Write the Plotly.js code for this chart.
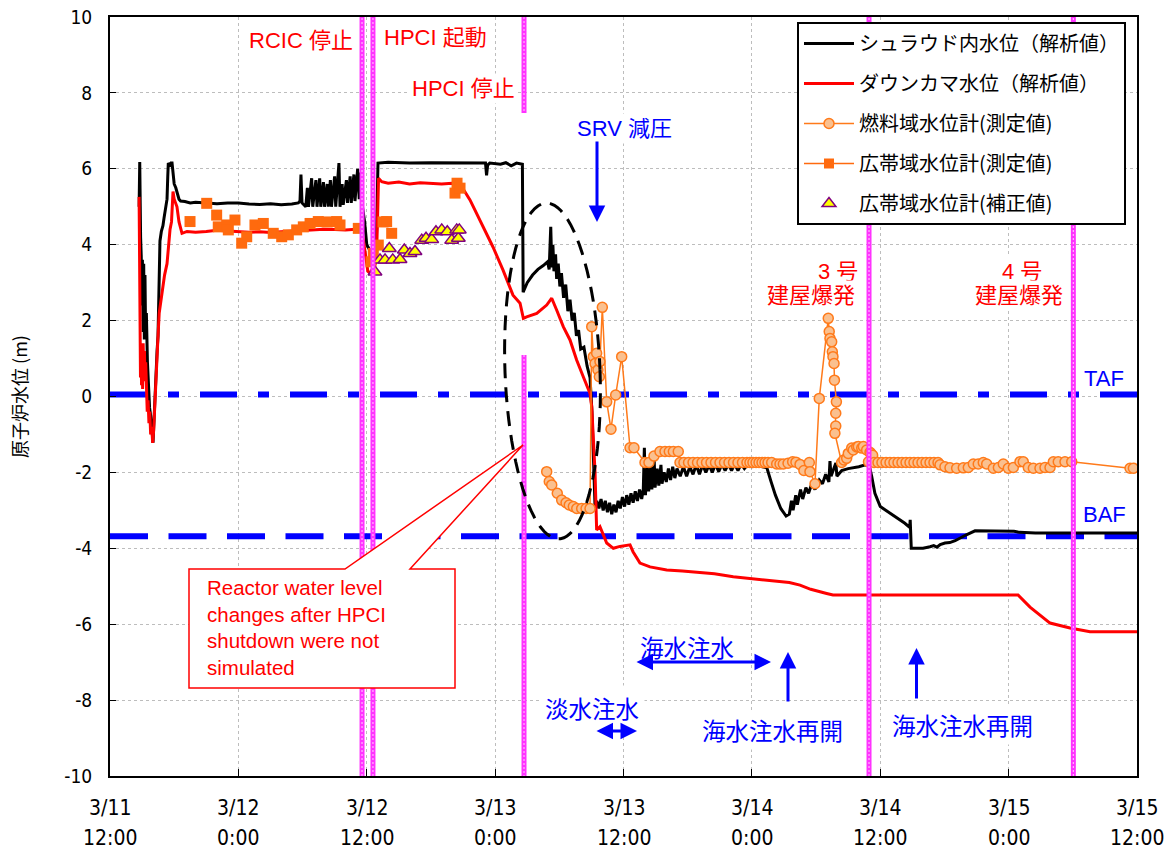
<!DOCTYPE html>
<html><head><meta charset="utf-8">
<script src="https://cdn.plot.ly/plotly-3.0.1.min.js"></script>
<style>html,body{margin:0;padding:0;background:#fff;}#chart{width:1171px;height:853px;}</style>
</head><body><div id="chart"></div>
<script>
// ---------- DATA (hours since 3/11 12:00, water level in m) ----------
const tickHours = [0, 12, 24, 36, 48, 60, 72, 84, 96];
const tickDates = ['3/11', '3/12', '3/12', '3/13', '3/13', '3/14', '3/14', '3/15', '3/15'];
const tickTimes = ['12:00', '0:00', '12:00', '0:00', '12:00', '0:00', '12:00', '0:00', '12:00'];
const yTicks = [-10, -8, -6, -4, -2, 0, 2, 4, 6, 8, 10];
const yTickLabels = ['-10', '-8', '-6', '-4', '-2', '0', '2', '4', '6', '8', '10'];

const seriesNames = ['シュラウド内水位（解析値）', 'ダウンカマ水位（解析値）', '燃料域水位計(測定値)', '広帯域水位計(測定値)', '広帯域水位計(補正値)'];

const shroudSeries = [[2.72,5.0],[2.78,6.18],[2.86,4.2],[2.92,3.7],[2.98,2.4],[3.03,3.6],[3.09,1.7],[3.15,3.5],[3.21,1.5],[3.27,3.2],[3.33,1.6],[3.40,2.2],[3.50,0.9],[3.60,0.2],[3.70,-0.3],[3.80,-0.5],[3.88,-0.9],[3.96,-1.0],[4.02,-1.22],[4.10,-0.7],[4.20,0.2],[4.30,0.8],[4.40,1.2],[4.49,1.6],[4.58,3.0],[4.67,4.1],[4.80,4.35],[4.95,4.5],[5.05,4.7],[5.14,4.85],[5.25,5.1],[5.33,5.2],[5.40,5.8],[5.45,6.15],[5.60,6.1],[5.70,6.15],[5.80,6.15],[5.90,5.85],[6.00,5.6],[6.15,5.5],[6.30,5.35],[6.45,5.2],[6.60,5.15],[7.0,5.14],[7.5,5.1],[8.0,5.12],[9.0,5.1],[10.0,5.08],[11.0,5.1],[12.0,5.1],[13.0,5.07],[14.0,5.06],[15.0,5.08],[16.0,5.05],[17.0,5.07],[17.6,5.1],[17.76,5.15],[17.85,5.85],[17.95,5.1],[18.3,5.0],[18.45,5.5],[18.55,5.0],[18.85,5.75],[18.95,5.0],[19.25,5.7],[19.35,5.0],[19.6,5.75],[19.7,5.0],[19.95,5.65],[20.05,5.0],[20.3,5.6],[20.4,5.0],[20.6,5.7],[20.7,5.0],[21.0,5.8],[21.1,5.0],[21.4,6.15],[21.5,5.0],[21.7,5.6],[21.8,5.05],[22.1,5.7],[22.2,5.1],[22.45,5.8],[22.55,5.1],[22.8,5.85],[22.9,5.15],[23.15,6.0],[23.3,5.2],[23.45,5.9],[23.6,5.0],[23.8,4.6],[24.0,4.0],[24.3,3.85],[24.6,3.9],[24.9,4.1],[25.0,5.5],[25.05,6.15],[26.0,6.17],[28.0,6.15],[30.0,6.16],[32.0,6.15],[35.1,6.15],[35.2,5.83],[35.3,6.1],[35.5,6.15],[36.5,6.12],[37.0,6.16],[37.5,6.08],[38.0,6.15],[38.55,6.12],[38.62,2.75],[39.0,3.0],[39.5,3.2],[40.0,3.35],[40.5,3.45],[40.9,3.55],[41.05,3.35],[41.2,4.47],[41.3,3.4],[41.4,4.0],[41.5,3.3],[41.65,3.75],[41.75,3.1],[41.9,3.5],[42.05,2.9],[42.2,3.25],[42.4,2.6],[42.6,2.95],[42.8,2.25],[43.0,2.55],[43.2,2.0],[43.4,2.2],[43.6,1.6],[43.8,1.75],[44.0,1.25],[44.3,1.3],[44.6,0.8],[44.87,0.5],[45.05,-0.4],[45.2,-1.5],[45.34,-2.9],[45.5,-2.75],[45.7,-2.95],[45.9,-2.7],[46.1,-3.0],[46.3,-2.75],[46.5,-3.05],[46.7,-2.8],[46.9,-3.1],[47.1,-2.85],[47.3,-3.05],[47.5,-2.75],[47.7,-2.95],[47.9,-2.65],[48.1,-2.9],[48.3,-2.6],[48.5,-2.85],[48.7,-2.55],[48.9,-2.8],[49.1,-2.5],[49.3,-2.75],[49.5,-2.45],[49.7,-2.7],[49.85,-2.45],[49.95,-1.35],[50.05,-2.6],[50.25,-1.65],[50.35,-2.5],[50.55,-1.85],[50.65,-2.45],[50.85,-1.5],[50.95,-2.4],[51.15,-1.9],[51.3,-2.35],[51.5,-1.8],[51.6,-2.3],[51.8,-2.0],[52.0,-2.25],[52.2,-1.9],[52.4,-2.2],[52.6,-1.85],[52.8,-2.15],[53.0,-1.9],[53.3,-2.1],[53.6,-1.85],[53.9,-2.1],[54.2,-1.85],[54.5,-2.05],[54.8,-1.8],[55.1,-2.05],[55.4,-1.8],[55.7,-2.0],[56.0,-1.8],[56.3,-2.0],[56.6,-1.78],[56.9,-1.98],[57.2,-1.78],[57.5,-1.95],[57.8,-1.78],[58.1,-1.95],[58.4,-1.78],[58.7,-1.95],[59.0,-1.78],[59.3,-1.9],[59.6,-1.8],[60.0,-1.85],[60.5,-1.82],[61.0,-1.85],[61.4,-1.88],[61.8,-2.25],[62.2,-2.6],[62.7,-2.95],[63.2,-3.15],[63.5,-3.1],[63.7,-2.75],[63.85,-3.0],[64.1,-2.6],[64.25,-2.85],[64.55,-2.45],[64.75,-2.7],[65.05,-2.4],[65.3,-2.55],[65.6,-2.3],[65.9,-2.45],[66.3,-2.2],[66.6,-2.3],[66.9,-2.05],[67.2,-2.25],[67.3,-1.7],[67.4,-2.1],[67.85,-1.75],[67.95,-2.1],[68.4,-1.95],[69.0,-1.9],[69.5,-1.88],[70.0,-1.85],[70.6,-1.8],[71.0,-1.85],[71.2,-2.1],[71.5,-2.55],[72.0,-2.9],[72.9,-3.07],[73.85,-3.25],[74.3,-3.34],[74.75,-3.45],[74.8,-3.25],[74.9,-4.0],[75.5,-4.0],[76.0,-4.0],[76.65,-3.96],[77.0,-3.93],[77.3,-3.97],[77.6,-3.9],[78.05,-3.86],[78.5,-3.85],[79.0,-3.8],[79.45,-3.73],[80.0,-3.65],[80.86,-3.54],[82.0,-3.54],[83.2,-3.55],[84.5,-3.55],[85.0,-3.58],[86.5,-3.6],[88.0,-3.6],[96.0,-3.6]];

const downcomerSeries = [[2.72,5.26],[2.76,3.0],[2.80,1.6],[2.85,0.5],[2.90,1.3],[2.95,0.3],[3.00,1.0],[3.05,0.2],[3.10,1.4],[3.16,0.6],[3.22,1.2],[3.28,0.4],[3.34,0.9],[3.40,0.0],[3.48,-0.4],[3.56,-0.1],[3.64,-0.7],[3.72,-0.4],[3.80,-1.0],[3.90,-0.8],[3.99,-1.22],[4.08,-0.9],[4.18,-0.2],[4.30,0.6],[4.40,1.2],[4.49,1.6],[4.60,2.2],[4.75,2.5],[4.95,2.8],[5.10,3.2],[5.33,3.5],[5.45,3.9],[5.61,4.4],[5.75,4.6],[5.89,5.4],[6.00,5.2],[6.26,5.0],[6.45,4.6],[6.73,4.3],[7.2,4.35],[8.0,4.33],[9.0,4.35],[10.0,4.38],[11.0,4.36],[12.0,4.35],[13.0,4.33],[14.0,4.34],[15.0,4.32],[16.0,4.34],[17.0,4.36],[18.0,4.38],[19.0,4.4],[20.0,4.41],[21.0,4.4],[22.0,4.39],[23.0,4.41],[23.5,4.38],[23.7,4.1],[23.9,3.7],[24.1,3.3],[24.3,3.25],[24.6,3.4],[24.9,3.55],[25.0,4.6],[25.1,5.75],[25.4,5.66],[26.0,5.62],[27.0,5.65],[28.0,5.6],[29.0,5.63],[30.0,5.62],[31.0,5.6],[32.0,5.62],[32.72,5.6],[33.65,5.18],[34.87,4.47],[35.8,3.94],[36.74,3.33],[37.67,2.67],[38.33,2.46],[38.64,2.06],[38.95,2.1],[39.89,2.19],[40.82,2.41],[41.29,2.59],[41.75,2.28],[42.37,1.84],[43.0,1.49],[43.62,0.96],[44.24,0.52],[44.87,0.08],[45.03,-0.27],[45.34,-2.0],[45.49,-3.52],[45.8,-3.43],[46.43,-3.86],[47.05,-4.0],[47.67,-3.95],[48.61,-3.91],[48.89,-4.09],[49.54,-4.39],[50.48,-4.49],[52.04,-4.57],[53.5,-4.6],[55.15,-4.64],[56.5,-4.67],[58.26,-4.75],[60.0,-4.8],[61.38,-4.84],[62.5,-4.86],[63.5,-4.9],[64.5,-4.97],[65.5,-5.08],[66.99,-5.19],[67.58,-5.23],[75.0,-5.23],[80.0,-5.23],[84.88,-5.23],[86.0,-5.55],[87.87,-5.97],[89.74,-6.1],[91.61,-6.2],[96.0,-6.2]];

const fuelRangeSeries = [[40.82,-1.98],[41.06,-2.24],[41.29,-2.33],[41.81,-2.55],[42.22,-2.73],[42.63,-2.8],[42.93,-2.86],[43.31,-2.9],[43.63,-2.95],[44.09,-2.95],[44.5,-2.95],[44.87,-2.95],[45.03,1.84],[45.18,1.05],[45.34,0.87],[45.49,1.14],[45.61,0.7],[45.74,0.52],[45.8,0.92],[46.02,2.35],[46.43,-0.14],[46.83,-0.86],[47.27,0.04],[47.83,1.05],[48.61,-1.35],[48.98,-1.35],[50.01,-1.74],[50.38,-1.74],[50.85,-1.57],[51.41,-1.45],[51.88,-1.45],[52.28,-1.45],[52.66,-1.45],[53.12,-1.45],[53.28,-1.74],[53.65,-1.74],[54.08,-1.74],[54.5,-1.74],[54.92,-1.74],[55.34,-1.74],[55.76,-1.74],[56.18,-1.74],[56.6,-1.74],[57.02,-1.74],[57.44,-1.74],[57.86,-1.74],[58.28,-1.74],[58.7,-1.74],[59.12,-1.74],[59.54,-1.74],[59.82,-1.74],[60.1,-1.74],[60.39,-1.74],[60.67,-1.74],[60.95,-1.74],[61.23,-1.74],[61.51,-1.74],[61.85,-1.74],[62.32,-1.78],[62.63,-1.78],[62.94,-1.78],[63.38,-1.76],[63.81,-1.72],[64.12,-1.73],[64.5,-1.79],[64.86,-1.95],[65.37,-1.74],[65.43,-1.98],[65.9,-2.3],[66.3,-0.05],[67.14,2.06],[67.23,1.71],[67.3,1.53],[67.46,1.44],[67.52,1.18],[67.58,1.05],[67.68,0.87],[67.72,0.43],[67.9,-0.14],[67.84,-0.44],[67.84,-0.78],[67.76,-0.97],[68.39,-1.74],[68.6,-1.67],[68.86,-1.63],[69.01,-1.5],[69.33,-1.36],[69.48,-1.41],[69.8,-1.33],[69.95,-1.32],[70.27,-1.36],[70.42,-1.32],[70.73,-1.41],[70.9,-1.72],[71.04,-1.47],[71.11,-1.5],[71.29,-1.55],[71.42,-1.74],[71.79,-1.74],[72.16,-1.74],[72.54,-1.74],[72.91,-1.74],[73.28,-1.74],[73.66,-1.74],[74.03,-1.74],[74.41,-1.74],[74.78,-1.74],[75.15,-1.74],[75.53,-1.74],[75.9,-1.74],[76.28,-1.74],[76.65,-1.74],[77.02,-1.74],[77.4,-1.74],[77.59,-1.8],[78.05,-1.85],[78.52,-1.88],[79.14,-1.89],[79.76,-1.88],[80.23,-1.87],[80.7,-1.78],[81.16,-1.78],[81.63,-1.74],[81.95,-1.78],[82.57,-1.89],[83.04,-1.87],[83.5,-1.78],[83.97,-1.89],[84.44,-1.87],[85.06,-1.72],[85.37,-1.72],[85.84,-1.87],[86.31,-1.89],[86.93,-1.89],[87.4,-1.87],[87.87,-1.87],[88.18,-1.72],[88.64,-1.72],[89.27,-1.72],[89.9,-1.72],[95.35,-1.89],[95.66,-1.89]];

const wideRangeSeries = [[7.48,4.61],[9.04,5.09],[9.97,4.78],[10.12,4.47],[10.91,4.52],[11.06,4.39],[11.68,4.65],[12.31,4.04],[12.78,4.21],[13.55,4.52],[14.33,4.56],[15.26,4.3],[16.05,4.21],[16.67,4.26],[17.45,4.39],[18.07,4.47],[18.7,4.56],[19.47,4.61],[20.3,4.6],[21.19,4.61],[21.5,4.52],[23.21,4.43],[24.4,3.55],[24.61,3.77],[25.08,3.99],[25.52,4.6],[25.86,4.61],[26.33,4.3],[32.25,5.36],[32.44,5.62],[32.72,5.49]];

const wideCorrectedSeries = [[24.77,3.28],[25.24,3.6],[25.71,3.6],[26.11,3.9],[26.43,3.6],[27.11,3.61],[27.51,3.86],[28.04,3.77],[28.51,3.82],[29.14,4.12],[29.54,4.17],[30.07,4.14],[30.47,4.34],[31.01,4.39],[31.53,4.34],[31.94,4.12],[32.41,4.39],[32.56,4.17],[32.65,4.39]];

const eventHours = [23.56, 24.58, 38.7, 70.95, 90.05];
const TAF_LEVEL = 0.05;
const BAF_LEVEL = -3.68;

// ---------- LAYOUT HELPERS (pixel -> axis units, for decorations only) ----------
const PL = 110, PR = 1137, PT = 17, PB = 776;
const X_RANGE = [0, 96], Y_RANGE = [-10, 10];
function hx(px) { return X_RANGE[0] + (px - PL) / (PR - PL) * (X_RANGE[1] - X_RANGE[0]); }
function vy(py) { return Y_RANGE[1] - (py - PT) / (PB - PT) * (Y_RANGE[1] - Y_RANGE[0]); }
const col = (arr, i) => arr.map(p => p[i]);

const JP = '"Noto Sans CJK JP", sans-serif';
const MIX = '"Liberation Sans", "Noto Sans CJK JP", sans-serif';
const NARROW = '"Liberation Sans Narrow", "DejaVu Sans Condensed", "Liberation Sans", sans-serif';

const traces = [
  { x: col(shroudSeries, 0), y: col(shroudSeries, 1), mode: 'lines', name: seriesNames[0], legendgroup: 'g1',
    line: { color: '#000000', width: 3 } },
  { x: col(downcomerSeries, 0), y: col(downcomerSeries, 1), mode: 'lines', name: seriesNames[1], legendgroup: 'g2',
    line: { color: '#FF0000', width: 3 } },
  { x: col(fuelRangeSeries, 0), y: col(fuelRangeSeries, 1), mode: 'lines+markers', name: seriesNames[2], legendgroup: 'g3',
    line: { color: '#FF7A1A', width: 1.5 },
    marker: { symbol: 'circle', size: 10, color: '#FAC08F', line: { color: '#FF7A1A', width: 1.5 } } },
  { x: col(wideRangeSeries, 0), y: col(wideRangeSeries, 1), mode: 'markers', name: seriesNames[3], legendgroup: 'g4', showlegend: false,
    marker: { symbol: 'square', size: 11, color: '#FF6A0E' } },
  { x: [null], y: [null], mode: 'lines+markers', name: seriesNames[3], legendgroup: 'g4',
    line: { color: '#FF6A0E', width: 1.5 }, marker: { symbol: 'square', size: 10, color: '#FF6A0E' } },
  { x: col(wideCorrectedSeries, 0), y: col(wideCorrectedSeries, 1), mode: 'markers', name: seriesNames[4], legendgroup: 'g5',
    marker: { symbol: 'triangle-up', size: 12, color: '#FFFF00', line: { color: '#800080', width: 1.5 } } }
];

// ---------- SHAPES ----------
const shapes = [];
shapes.push({ type: 'line', xref: 'x', yref: 'y', x0: 0, x1: 96, y0: TAF_LEVEL, y1: TAF_LEVEL, layer: 'between',
  line: { color: '#0000FF', width: 6, dash: '37px,21px,11px,21px' } });
shapes.push({ type: 'line', xref: 'x', yref: 'y', x0: 0, x1: 96, y0: BAF_LEVEL, y1: BAF_LEVEL, layer: 'between',
  line: { color: '#0000FF', width: 6, dash: '38px,20.5px' } });

function eventLine(h, ya, yb) {
  shapes.push({ type: 'line', xref: 'x', yref: 'y', x0: h, x1: h, y0: ya, y1: yb, layer: 'above',
    line: { color: '#FF33FF', width: 5 } });
  shapes.push({ type: 'line', xref: 'x', yref: 'y', x0: h, x1: h, y0: ya, y1: yb, layer: 'above',
    line: { color: '#FFB8FF', width: 1.2, dash: '2px,2px' } });
}
eventHours.forEach((h, i) => {
  if (i === 2) { eventLine(h, 10, vy(113)); eventLine(h, vy(355), -10); }
  else eventLine(h, -10, 10);
});

// dashed ellipse
(function () {
  const cx = 552.5, cy = 371, rx = 47.5, ry = 168, a = -2.2 * Math.PI / 180;
  const pts = [];
  for (let i = 0; i <= 90; i++) {
    const t = i / 90 * 2 * Math.PI;
    const X = cx + rx * Math.cos(t) * Math.cos(a) - ry * Math.sin(t) * Math.sin(a);
    const Y = cy + rx * Math.cos(t) * Math.sin(a) + ry * Math.sin(t) * Math.cos(a);
    pts.push((i ? 'L' : 'M') + hx(X).toFixed(4) + ',' + vy(Y).toFixed(4));
  }
  shapes.push({ type: 'path', xref: 'x', yref: 'y', path: pts.join(' '), layer: 'above',
    line: { color: '#000000', width: 3, dash: '15px,9px' } });
})();

// callout box
(function () {
  const P = [[189, 569], [345, 569], [523, 445], [410, 569], [455, 569], [455, 688], [189, 688]];
  const path = P.map((p, i) => (i ? 'L' : 'M') + hx(p[0]).toFixed(4) + ',' + vy(p[1]).toFixed(4)).join(' ') + ' Z';
  shapes.push({ type: 'path', xref: 'x', yref: 'y', path: path, layer: 'above', fillcolor: '#FFFFFF',
    line: { color: '#FF0000', width: 1.5 } });
})();

// ---------- ANNOTATIONS ----------
const ann = [];
function txt(text, px, py, color, size, extra) {
  ann.push(Object.assign({ xref: 'x', yref: 'y', x: hx(px), y: vy(py), text: text, showarrow: false,
    font: { family: MIX, size: size, color: color }, bgcolor: 'rgba(255,255,255,1)', borderpad: 2 }, extra || {}));
}
function arrow(hxp, hyp, txp, typ, both) {
  ann.push({ xref: 'x', yref: 'y', axref: 'x', ayref: 'y', x: hx(hxp), y: vy(hyp), ax: hx(txp), ay: vy(typ), text: '',
    showarrow: true, arrowhead: 2, arrowsize: 1.1, arrowwidth: 3, arrowcolor: '#0000FF',
    arrowside: both ? 'end+start' : 'end', startarrowhead: 2, startarrowsize: 1.1 });
}
txt('RCIC 停止', 301, 40, '#FF0000', 22);
txt('HPCI 起動', 435, 37, '#FF0000', 22);
txt('HPCI 停止', 463, 88, '#FF0000', 22);
txt('SRV 減圧', 624, 128, '#0000FF', 22);
txt('3 号', 838, 271, '#FF0000', 22);
txt('建屋爆発', 811, 295, '#FF0000', 22);
txt('4 号', 1022, 271, '#FF0000', 22);
txt('建屋爆発', 1019, 295, '#FF0000', 22);
txt('TAF', 1104, 378, '#0000FF', 22, { bgcolor: 'rgba(0,0,0,0)' });
txt('BAF', 1104, 514, '#0000FF', 22, { bgcolor: 'rgba(0,0,0,0)' });
txt('海水注水', 687, 647, '#0000FF', 23.5, { borderpad: 5, font: { family: JP, size: 23.5, color: '#0000FF' } });
txt('淡水注水', 592, 708, '#0000FF', 23.5, { borderpad: 5, font: { family: JP, size: 23.5, color: '#0000FF' } });
txt('海水注水再開', 772, 730, '#0000FF', 23.5, { font: { family: JP, size: 23.5, color: '#0000FF' } });
txt('海水注水再開', 962, 725, '#0000FF', 23.5, { font: { family: JP, size: 23.5, color: '#0000FF' } });
ann.push({ xref: 'x', yref: 'y', x: hx(205), y: vy(574), xanchor: 'left', yanchor: 'top', align: 'left', showarrow: false,
  text: 'Reactor water level<br>changes after HPCI<br>shutdown were not<br>simulated',
  font: { family: '"Liberation Sans", sans-serif', size: 20.5, color: '#FF0000' } });

arrow(597, 222, 597, 140, false);
arrow(771, 662, 635, 662, true);
arrow(788, 652, 788, 703, false);
arrow(916.5, 648, 916.5, 700, false);
arrow(637, 731, 595, 731, true);

// x tick labels (two rows)
tickHours.forEach((h, i) => {
  ann.push({ xref: 'x', yref: 'paper', x: h, y: 0, yanchor: 'middle', yshift: -32, text: tickDates[i], showarrow: false,
    font: { family: NARROW, size: 21, color: '#000' } });
  ann.push({ xref: 'x', yref: 'paper', x: h, y: 0, yanchor: 'middle', yshift: -62, text: tickTimes[i], showarrow: false,
    font: { family: NARROW, size: 21, color: '#000' } });
});

const layout = {
  width: 1171, height: 853,
  margin: { l: PL, r: 1171 - PR, t: PT, b: 853 - PB, pad: 0 },
  paper_bgcolor: '#FFFFFF', plot_bgcolor: '#FFFFFF',
  showlegend: true,
  legend: { x: (1126 - PL) / (PR - PL), xanchor: 'right', y: (PB - 22) / (PB - PT), yanchor: 'top',
    bgcolor: '#FFFFFF', bordercolor: '#000000', borderwidth: 2, itemwidth: 50, tracegroupgap: 11,
    font: { family: JP, size: 20, color: '#000' }, traceorder: 'grouped' },
  xaxis: { range: X_RANGE, tickvals: tickHours, ticktext: tickHours.map(() => ''), showticklabels: false,
    ticks: 'inside', ticklen: 7, tickcolor: '#000', tickwidth: 1,
    showgrid: true, gridcolor: '#BDBDBD', gridwidth: 1, griddash: 'dot', zeroline: false,
    showline: true, linecolor: '#000', linewidth: 2, mirror: true },
  yaxis: { range: Y_RANGE, tickvals: yTicks, ticktext: yTickLabels, ticks: 'inside', ticklen: 6, tickcolor: '#000',
    ticklabelstandoff: 12,
    tickfont: { family: NARROW, size: 19, color: '#000' },
    showgrid: true, gridcolor: '#BDBDBD', gridwidth: 1, griddash: 'dot', zeroline: false,
    showline: true, linecolor: '#000', linewidth: 2, mirror: true,
    title: { text: '原子炉水位 (m)', standoff: 32, font: { family: JP, size: 18, color: '#000' } } },
  shapes: shapes,
  annotations: ann
};

Plotly.newPlot('chart', traces, layout, { displayModeBar: false, staticPlot: true });
</script></body></html>
